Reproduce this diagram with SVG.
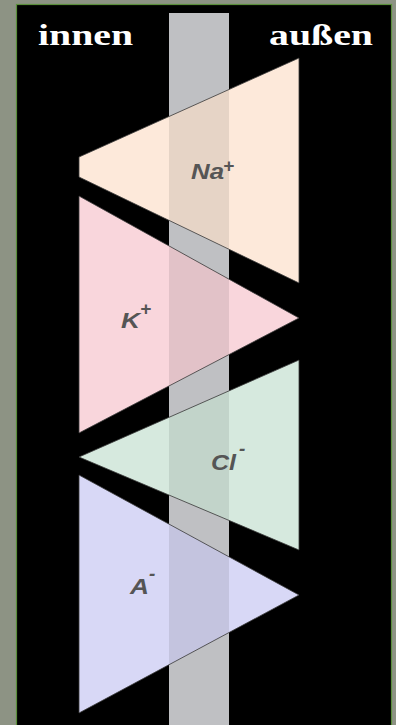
<svg xmlns="http://www.w3.org/2000/svg" width="396" height="725" viewBox="0 0 396 725">
  <style>
    .head { font-family: "Liberation Serif", "Times New Roman", serif; font-weight: bold; font-size: 30px; fill: #ffffff; }
    .ion { font-family: "Liberation Sans", Arial, sans-serif; font-style: italic; font-weight: bold; font-size: 22px; fill: #555555; }
    .sup { font-family: "Liberation Sans", Arial, sans-serif; font-style: italic; font-weight: bold; font-size: 19px; fill: #555555; }
    .tri { stroke: #3a3a3a; stroke-width: 0.8; stroke-linejoin: miter; }
    .shade { fill: #000000; opacity: 0.09; }
  </style>
  <defs>
    <clipPath id="cNa"><polygon points="299,58 79,157 79,177 299,283"/></clipPath>
    <clipPath id="cK"><polygon points="79,196 299,318 79,433"/></clipPath>
    <clipPath id="cCl"><polygon points="299,360 79,457 299,550"/></clipPath>
    <clipPath id="cA"><polygon points="79,475 299,595 79,713"/></clipPath>
  </defs>

  <!-- background -->
  <rect x="0" y="0" width="396" height="725" fill="#8d9384"/>
  <rect x="16.5" y="4.5" width="375" height="730" fill="#000000" stroke="#5b8f3c" stroke-width="1.2"/>

  <!-- membrane -->
  <g id="membrane">
    <rect x="169" y="13" width="60" height="712" fill="#bfc0c3"/>
  </g>

  <!-- headings -->
  <g id="labels">
    <text class="head" x="38" y="45" textLength="95" lengthAdjust="spacingAndGlyphs">innen</text>
    <text class="head" x="269" y="45" textLength="104" lengthAdjust="spacingAndGlyphs">außen</text>
  </g>

  <g id="connectors"></g>

  <!-- Na+ -->
  <g id="na">
    <polygon class="tri" points="299,58 79,157 79,177 299,283" fill="#fde9da"/>
    <rect class="shade" x="169" y="0" width="60" height="725" clip-path="url(#cNa)"/>
    <text class="ion" x="191" y="179" textLength="33" lengthAdjust="spacingAndGlyphs">Na</text>
    <text class="sup" x="223" y="172">+</text>
  </g>

  <!-- K+ -->
  <g id="k">
    <polygon class="tri" points="79,196 299,318 79,433" fill="#f9d6dc"/>
    <rect class="shade" x="169" y="0" width="60" height="725" clip-path="url(#cK)"/>
    <text class="ion" x="121" y="328" textLength="19" lengthAdjust="spacingAndGlyphs">K</text>
    <text class="sup" x="140" y="315">+</text>
  </g>

  <!-- Cl- -->
  <g id="cl">
    <polygon class="tri" points="299,360 79,457 299,550" fill="#d6e9de"/>
    <rect class="shade" x="169" y="0" width="60" height="725" clip-path="url(#cCl)"/>
    <text class="ion" x="211" y="470" textLength="25" lengthAdjust="spacingAndGlyphs">Cl</text>
    <text class="sup" x="239" y="455">-</text>
  </g>

  <!-- A- -->
  <g id="a">
    <polygon class="tri" points="79,475 299,595 79,713" fill="#d8d8f6"/>
    <rect class="shade" x="169" y="0" width="60" height="725" clip-path="url(#cA)"/>
    <text class="ion" x="130" y="594" textLength="19" lengthAdjust="spacingAndGlyphs">A</text>
    <text class="sup" x="149" y="580">-</text>
  </g>
</svg>
